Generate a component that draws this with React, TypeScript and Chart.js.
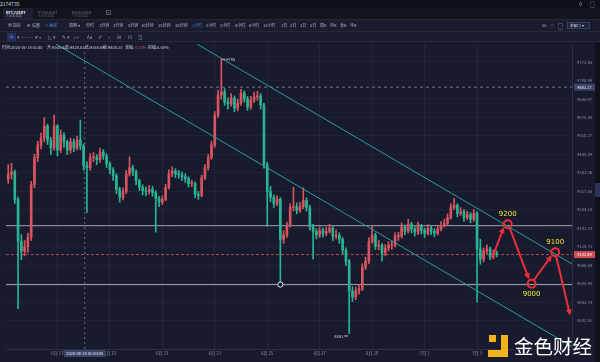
import React, { useEffect, useRef } from "react";
import { Chart, registerables } from "chart.js";

Chart.register(...registerables);

// ---- time axis: day number of June 2020 (July 1 = 31). 3-hour candles from 2020-06-15 03:00
const candleStartDay = 15.125;
const candleStepDays = 0.125;
const firstOpen = 9360;

const closes = [
  9375, 9385, 9290, 9147, 9114, 9128, 9161, 9341, 9434, 9478,
  9503, 9545, 9496, 9468, 9545, 9461, 9513, 9489, 9461, 9489,
  9468, 9496, 9475, 9406, 9399, 9434, 9437, 9427, 9454, 9440,
  9413, 9392, 9371, 9324, 9297, 9317, 9378, 9399, 9385, 9354,
  9331, 9320, 9317, 9324, 9313, 9293, 9280, 9290, 9331, 9378,
  9388, 9378, 9375, 9368, 9361, 9344, 9344, 9307, 9303, 9365,
  9399, 9434, 9478, 9584, 9655, 9666, 9630, 9623, 9644, 9608,
  9626, 9662, 9641, 9612, 9637, 9648, 9651, 9619, 9410, 9317,
  9297, 9276, 9290, 9154, 9168, 9201, 9262, 9265, 9252, 9265,
  9286, 9262, 9198, 9181, 9168, 9184, 9174, 9181, 9191, 9164,
  9168, 9154, 9117, 9080, 8981, 8961, 8981, 8988, 9060, 9080,
  9147, 9168, 9131, 9134, 9107, 9124, 9134, 9134, 9164, 9164,
  9195, 9181, 9205, 9188, 9178, 9198, 9184, 9174, 9191, 9181,
  9174, 9188, 9201, 9208, 9228, 9262, 9269, 9242, 9248, 9228,
  9238, 9222, 9242, 9121, 9087, 9114, 9121, 9094, 9107, 9102.49,
];

const highs = [
  9410, 9415, 9392, 9298, 9170, 9150, 9175, 9352, 9446, 9492,
  9520, 9575, 9552, 9505, 9584, 9550, 9531, 9522, 9495, 9502,
  9500, 9510, 9566, 9482, 9420, 9448, 9452, 9445, 9468, 9462,
  9448, 9420, 9400, 9378, 9332, 9330, 9390, 9437, 9408, 9392,
  9360, 9340, 9332, 9338, 9335, 9320, 9300, 9302, 9342, 9392,
  9402, 9396, 9390, 9385, 9378, 9368, 9356, 9350, 9318, 9374,
  9410, 9446, 9492, 9596, 9672, 9785, 9678, 9645, 9660, 9652,
  9640, 9675, 9670, 9650, 9650, 9665, 9668, 9660, 9625, 9418,
  9335, 9305, 9302, 9296, 9182, 9212, 9275, 9331, 9278, 9280,
  9330, 9295, 9270, 9205, 9190, 9196, 9192, 9194, 9205, 9198,
  9185, 9176, 9160, 9125, 9086, 8995, 8994, 9002, 9072, 9094,
  9160, 9198, 9175, 9150, 9140, 9136, 9146, 9148, 9176, 9178,
  9210, 9202, 9222, 9212, 9196, 9212, 9205, 9192, 9204, 9198,
  9190, 9200, 9214, 9222, 9240, 9275, 9293, 9275, 9262, 9255,
  9250, 9245, 9255, 9248, 9154, 9125, 9135, 9128, 9118, 9115,
];

const lows = [
  9345, 9360, 9276, 8922, 9085, 9098, 9110, 9150, 9330, 9420,
  9465, 9490, 9480, 9445, 9460, 9440, 9452, 9470, 9445, 9450,
  9455, 9460, 9462, 9390, 9245, 9390, 9420, 9410, 9418, 9428,
  9400, 9378, 9355, 9310, 9280, 9288, 9310, 9370, 9372, 9340,
  9320, 9305, 9302, 9308, 9300, 9178, 9265, 9272, 9285, 9325,
  9368, 9365, 9362, 9355, 9348, 9332, 9334, 9296, 9290, 9298,
  9358, 9390, 9428, 9470, 9575, 9640, 9618, 9605, 9615, 9595,
  9598, 9618, 9630, 9600, 9605, 9628, 9636, 9605, 9398, 9198,
  9282, 9262, 9268, 9002, 9140, 9160, 9195, 9250, 9240, 9245,
  9258, 9250, 9185, 9087, 9155, 9160, 9162, 9166, 9175, 9150,
  9155, 9140, 9105, 9066, 8841, 8946, 8952, 8970, 8982, 9052,
  9072, 9140, 9120, 9118, 9080, 9098, 9115, 9120, 9128, 9150,
  9158, 9170, 9175, 9176, 9165, 9170, 9172, 9160, 9168, 9170,
  9162, 9168, 9182, 9195, 9200, 9222, 9255, 9230, 9235, 9215,
  9220, 9210, 9215, 8945, 9070, 9078, 9105, 9085, 9088, 9095,
];

// ---- axes
const yTickValues = [
  8882.91, 8943.74, 9004.98, 9066.54, 9128.73, 9191.24, 9254.18, 9317.55,
  9381.36, 9445.59, 9510.27, 9575.4, 9640.97, 9706.98, 9773.45,
];
const yMin = 8790.5;
const yMax = 9838.6;
const xMin = 15.04;
const xMax = 36.62;
const xTickDays = [17, 19, 21, 23, 25, 27, 29, 31, 33];
const xTickLabels = ["6月 17", "6月 19", "6月 21", "6月 23", "6月 25", "6月 27", "6月 29", "7月 1", "7月 3"];

// ---- drawings
const levelPrices = [9200, 9002];
const lastPrice = 9102.49;
const crosshairDay = 18.04;
const crosshairPrice = 9683.17;
const crosshairTimeLabel = "2020-06-18 01:00:00";
const anchorDay = 25.5;
const anchorPrice = 9002;

const channelUpperDays = [22.32, 36.62];
const channelUpperPrices = [9838.6, 9071];
const channelLowerDays = [16.94, 36.62];
const channelLowerPrices = [9838.6, 8798.6];

const targetDays = [34.17, 35.08, 35.98];
const targetPrices = [9205, 9005, 9110];
const targetLabels = ["9200", "9000", "9100"];

const arrowFromDays = [33.59, 34.25, 35.19, 36.02];
const arrowFromPrices = [9094, 9191, 9020, 9094];
const arrowToDays = [34.02, 34.98, 35.85, 36.55];
const arrowToPrices = [9195, 9020, 9100, 8900];

// ---- styles
const BG = "#171b2d";
const UP = "#d9545f";
const DOWN = "#2ab493";
const TEAL = "#2a9e9c";
const ANN_RED = "#ec2f3a";
const AXIS_TXT = "#8d92a7";
const FONT = '"Noto Sans CJK SC", "Noto Sans", sans-serif';

const targetLabelSide = [-1, 1, -1];

const overlayPlugin = {
  id: "overlay",
  afterDatasetsDraw(chart: any) {
    const { ctx, scales } = chart;
    const x = scales.x;
    const y = scales.y;
    ctx.save();
    // anchor circle on support line
    ctx.beginPath();
    ctx.arc(x.getPixelForValue(anchorDay), y.getPixelForValue(anchorPrice), 2.6, 0, Math.PI * 2);
    ctx.fillStyle = BG;
    ctx.fill();
    ctx.strokeStyle = "#e8e8ee";
    ctx.lineWidth = 1;
    ctx.stroke();

    // high / low labels
    const hiIdx = highs.indexOf(Math.max(...highs));
    const loIdx = lows.indexOf(Math.min(...lows));
    const hx = x.getPixelForValue(candleStartDay + hiIdx * candleStepDays);
    const hy = y.getPixelForValue(highs[hiIdx]);
    const lx = x.getPixelForValue(candleStartDay + loIdx * candleStepDays);
    const ly = y.getPixelForValue(lows[loIdx]);
    ctx.strokeStyle = "#c9ccd8";
    ctx.beginPath();
    ctx.moveTo(hx + 1, hy + 0.5);
    ctx.lineTo(hx + 4, hy + 0.5);
    ctx.moveTo(lx - 5, ly + 2.5);
    ctx.lineTo(lx - 1, ly + 2.5);
    ctx.stroke();
    ctx.fillStyle = "#d5d8e2";
    ctx.font = `4px ${FONT}`;
    ctx.textBaseline = "middle";
    ctx.textAlign = "left";
    ctx.fillText(String(highs[hiIdx]), hx + 5, hy + 0.5);
    ctx.textAlign = "right";
    ctx.fillText(String(lows[loIdx]), lx - 6, ly + 2.5);

    // arrows
    ctx.strokeStyle = ANN_RED;
    ctx.fillStyle = ANN_RED;
    ctx.lineWidth = 2;
    ctx.lineCap = "round";
    for (let k = 0; k < arrowFromDays.length; k++) {
      const x1 = x.getPixelForValue(arrowFromDays[k]);
      const y1 = y.getPixelForValue(arrowFromPrices[k]);
      const x2 = x.getPixelForValue(arrowToDays[k]);
      const y2 = y.getPixelForValue(arrowToPrices[k]);
      const a = Math.atan2(y2 - y1, x2 - x1);
      ctx.beginPath();
      ctx.moveTo(x1, y1);
      ctx.lineTo(x2 - Math.cos(a) * 3, y2 - Math.sin(a) * 3);
      ctx.stroke();
      ctx.beginPath();
      ctx.moveTo(x2, y2);
      ctx.lineTo(x2 - Math.cos(a) * 6 + Math.sin(a) * 3, y2 - Math.sin(a) * 6 - Math.cos(a) * 3);
      ctx.lineTo(x2 - Math.cos(a) * 6 - Math.sin(a) * 3, y2 - Math.sin(a) * 6 + Math.cos(a) * 3);
      ctx.closePath();
      ctx.fill();
    }
    // target labels
    ctx.font = `7px "DejaVu Sans", sans-serif`;
    ctx.textAlign = "center";
    ctx.textBaseline = "middle";
    for (let k = 0; k < targetDays.length; k++) {
      const tx = x.getPixelForValue(targetDays[k]);
      const ty = y.getPixelForValue(targetPrices[k]) + targetLabelSide[k] * 10;
      ctx.lineWidth = 2;
      ctx.strokeStyle = "rgba(20,20,20,0.6)";
      ctx.strokeText(targetLabels[k], tx, ty);
      ctx.fillStyle = "#f6e84a";
      ctx.fillText(targetLabels[k], tx, ty);
    }
    ctx.restore();
  },
  afterDraw(chart: any) {
    const { ctx, chartArea, scales } = chart;
    const x = scales.x;
    const y = scales.y;
    ctx.save();
    ctx.font = `4px ${FONT}`;
    ctx.textBaseline = "middle";
    ctx.textAlign = "center";
    const box = (cy: number, bg: string, fg: string, label: string) => {
      ctx.fillStyle = bg;
      ctx.fillRect(chartArea.right + 2, cy - 3.5, 21, 7);
      ctx.fillStyle = fg;
      ctx.fillText(label, chartArea.right + 12.5, cy);
    };
    box(y.getPixelForValue(crosshairPrice), "#3c4366", "#e6e8f1", crosshairPrice.toFixed(2));
    box(y.getPixelForValue(lastPrice), "#cf4c57", "#ffffff", lastPrice.toFixed(2));
    const cx = x.getPixelForValue(crosshairDay);
    ctx.fillStyle = "#3c4366";
    ctx.fillRect(cx - 21, chartArea.bottom + 1, 42, 7);
    ctx.fillStyle = "#e6e8f1";
    ctx.fillText(crosshairTimeLabel, cx, chartArea.bottom + 4.5);
    ctx.restore();
  },
};

export default function App() {
  const ref = useRef<HTMLCanvasElement>(null);

  useEffect(() => {
    const days = closes.map((_, i) => candleStartDay + i * candleStepDays);
    const opens = closes.map((_, i) => (i === 0 ? firstOpen : closes[i - 1]));
    const colors = closes.map((c, i) => (c >= opens[i] ? UP : DOWN));

    const hLine = (price: number, color: string, dash: number[], order: number) => ({
      type: "line" as const,
      data: [
        { x: xMin, y: price },
        { x: xMax, y: price },
      ],
      borderColor: color,
      borderWidth: 1,
      borderDash: dash,
      pointRadius: 0,
      order,
    });

    const chart = new Chart(ref.current as HTMLCanvasElement, {
      type: "bar",
      data: {
        datasets: [
          ...levelPrices.map((p) => hLine(p, "#a3a6b3", [], 20)),
          hLine(lastPrice, "rgba(214,84,96,0.8)", [3, 2], 20),
          hLine(crosshairPrice, "rgba(150,155,175,0.7)", [3, 3], 20),
          {
            type: "line",
            data: [
              { x: crosshairDay, y: yMin },
              { x: crosshairDay, y: yMax },
            ],
            borderColor: "rgba(150,155,175,0.6)",
            borderWidth: 1,
            borderDash: [2, 3],
            pointRadius: 0,
            order: 20,
          },
          {
            type: "line",
            data: channelUpperDays.map((d, i) => ({ x: d, y: channelUpperPrices[i] })),
            borderColor: TEAL,
            borderWidth: 1,
            pointRadius: 0,
            order: 3,
          },
          {
            type: "line",
            data: channelLowerDays.map((d, i) => ({ x: d, y: channelLowerPrices[i] })),
            borderColor: TEAL,
            borderWidth: 1,
            pointRadius: 0,
            order: 3,
          },
          {
            type: "bar",
            data: days.map((d, i) => ({ x: d, y: [lows[i], highs[i]] })),
            backgroundColor: colors,
            barThickness: 1,
            grouped: false,
            order: 6,
          },
          {
            type: "bar",
            data: days.map((d, i) => ({
              x: d,
              y: [Math.min(opens[i], closes[i]), Math.max(opens[i], closes[i])],
            })),
            backgroundColor: colors,
            barThickness: 2,
            minBarLength: 1,
            grouped: false,
            order: 5,
          },
          {
            type: "line",
            data: targetDays.map((d, i) => ({ x: d, y: targetPrices[i] })),
            showLine: false,
            pointRadius: 4,
            pointBorderWidth: 2,
            pointBorderColor: ANN_RED,
            pointBackgroundColor: "rgba(0,0,0,0)",
            order: 1,
          },
        ] as any,
      },
      options: {
        responsive: false,
        animation: false,
        events: [],
        layout: { padding: { top: 44, left: 0, right: 0, bottom: 0 } },
        plugins: { legend: { display: false }, tooltip: { enabled: false } },
        scales: {
          x: {
            type: "linear",
            min: xMin,
            max: xMax,
            offset: false,
            afterBuildTicks: (s: any) => {
              s.ticks = xTickDays.map((v) => ({ value: v }));
            },
            afterFit: (s: any) => {
              s.height = 13;
            },
            ticks: {
              autoSkip: false,
              maxRotation: 0,
              padding: 2,
              color: AXIS_TXT,
              font: { size: 4.2, family: FONT },
              callback: (v: any) => xTickLabels[xTickDays.indexOf(Number(v))],
            },
            grid: { color: "rgba(255,255,255,0.05)", drawTicks: false, offset: false },
            border: { color: "#2a2f43" },
          },
          y: {
            type: "logarithmic",
            position: "right",
            min: yMin,
            max: yMax,
            afterBuildTicks: (s: any) => {
              s.ticks = yTickValues.map((v) => ({ value: v }));
            },
            afterFit: (s: any) => {
              s.width = 28;
            },
            ticks: {
              autoSkip: false,
              padding: 5,
              color: AXIS_TXT,
              font: { size: 4.2, family: FONT },
              callback: (v: any) => Number(v).toFixed(2),
            },
            grid: { color: "rgba(255,255,255,0.035)", drawTicks: false },
            border: { color: "#2a2f43" },
          },
        },
      } as any,
      plugins: [overlayPlugin],
    });
    return () => chart.destroy();
  }, []);

  const t = (key: string, x: number, cy: number, text: string, size: number, color: string, extra: any = {}) => (
    <span
      key={key}
      style={{
        position: "absolute",
        left: x,
        top: cy - size / 2,
        fontSize: size,
        lineHeight: `${size}px`,
        color,
        whiteSpace: "nowrap",
        ...extra,
      }}
    >
      {text}
    </span>
  );

  const periods: [number, string, boolean][] = [
    [69, "周期 ▾", false], [86, "分时", false], [99, "1分钟", false], [113, "3分钟", false],
    [128, "5分钟", false], [141, "10分钟", false], [158, "15分钟", false], [175, "30分钟", false],
    [192, "1小时", true], [206, "2小时", false], [220, "3小时", false], [235, "4小时", false],
    [249, "6小时", false], [263, "12小时", false], [281, "1日", false], [290, "2日", false],
    [300, "3日", false], [310, "5日", false], [320, "周K", false], [330, "月K", false],
    [340, "季K", false], [350, "年K", false],
  ];
  const tools: [number, string][] = [
    [17, "▾"], [21, "—•— ▾"], [35, "⟋ ▾"], [48, "◺ ▾"], [62, "✎ ▾"], [73, "⩘ ▾"],
    [87, "Aa"], [98, "✐"], [108, "⌖"], [117, "⊟"], [128, "⊡"], [138, "▥"],
  ];

  return (
    <div
      style={{
        position: "fixed",
        left: 0,
        top: 0,
        width: 600,
        height: 362,
        background: BG,
        overflow: "hidden",
        fontFamily: FONT,
      }}
    >
      <canvas ref={ref} width={600} height={362} style={{ position: "absolute", left: 0, top: 0, width: 600, height: 362 }} />
      {/* header bands */}
      <div style={{ position: "absolute", left: 0, top: 0, width: 600, height: 8, background: "#0e1017" }} />
      <div style={{ position: "absolute", left: 0, top: 8, width: 600, height: 11, background: "#12151e" }} />
      <div style={{ position: "absolute", left: 3, top: 8, width: 30, height: 11, background: "#1b1f30" }} />
      <div style={{ position: "absolute", left: 0, top: 19, width: 600, height: 23, background: "#191d2e", borderTop: "1px solid #23283a", borderBottom: "1px solid #23283a", boxSizing: "border-box" }} />
      <div style={{ position: "absolute", left: 0, top: 31, width: 600, height: 1, background: "#23283a" }} />
      <div style={{ position: "absolute", left: 7, top: 33, width: 9, height: 8, background: "#27305a" }} />
      <div style={{ position: "absolute", left: 106, top: 10, width: 5, height: 5, border: "1px solid #4a5068", boxSizing: "border-box" }} />
      <div style={{ position: "absolute", left: 567, top: 22, width: 23, height: 7, border: "1px solid #3a4060", background: "#1f2438", boxSizing: "border-box" }} />
      <div style={{ position: "absolute", left: 595, top: 42, width: 5, height: 320, background: "#10121b" }} />
      <div style={{ position: "absolute", left: 595, top: 183, width: 5, height: 14, background: "#2b3358" }} />
      {t("id", 0, 3, "2174735", 5, "#d8dae3")}
      {t("ic1", 579, 3.5, "⚲", 5, "#a8acbb")}
      {t("ic2", 590, 3.5, "▢", 5, "#a8acbb")}
      {t("tab1", 6, 11.5, "BTC/USDT", 4, "#e8eaf0", { fontWeight: 700 })}
      {t("tab1s", 6, 15.8, "火币全球站", 3.2, "#8a8fa2")}
      {t("tab2", 38, 11.5, "ETH/USDT", 4, "#6c7186")}
      {t("tab2s", 38, 15.8, "火币全球站", 3.2, "#4e5368")}
      {t("tab3", 72, 11.5, "BCH/USDT", 4, "#6c7186")}
      {t("tab3s", 72, 15.8, "火币全球站", 3.2, "#4e5368")}
      {t("plus", 107, 12.3, "+", 4, "#8a8fa2")}
      {t("ind", 8, 25, "▤ 指标", 4, "#b4b8c8")}
      {t("set", 27, 25, "⚙ 设置", 4, "#b4b8c8")}
      {t("draw", 45, 25, "✎ 画线", 4, "#4a86f0")}
      {periods.map(([px, label, sel]) => t("p" + label, px, 25, label, 4, sel ? "#4a86f0" : "#b4b8c8"))}
      {t("3s", 542, 25, "3s", 4, "#b4b8c8")}
      {t("icA", 550, 25, "⁘", 5, "#b4b8c8")}
      {t("icB", 558, 25, "▢", 5, "#b4b8c8")}
      {t("win", 570, 25.3, "单窗口 ▾", 3.6, "#c8ccda")}
      {t("cross", 9, 37, "✛", 6, "#4a86f0")}
      {tools.map(([px, g], i) => t("tool" + i, px, 37, g, 4.5, "#8d92a6"))}
      {/* info row */}
      {t("info1", 2, 46.7, "时间:2020-06-18 01:00", 4, "#c8ccd9")}
      {t("info2", 47, 46.7, "开:9368.42", 4, "#c8ccd9")}
      {t("info3", 65, 46.7, "高:9428.03", 4, "#c8ccd9")}
      {t("info4", 85, 46.7, "低:9364.69", 4, "#c8ccd9")}
      {t("info5", 103, 46.7, "收:9404.35", 4, "#c8ccd9")}
      {t("info6", 125, 46.7, "涨幅:", 4, "#c8ccd9")}
      {t("info6b", 135, 46.7, "0.38%", 4, "#e0505c")}
      {t("info7", 148, 46.7, "振幅:0.68%", 4, "#c8ccd9")}
      {/* watermark */}
      <div style={{ position: "absolute", left: 489, top: 335, width: 7, height: 7, background: "#f3b21c" }} />
      <div style={{ position: "absolute", left: 501, top: 335, width: 7, height: 22, background: "#f3b21c" }} />
      <div style={{ position: "absolute", left: 488, top: 350, width: 20, height: 7, background: "#f3b21c" }} />
      {t("wm", 514, 346, "金色财经", 19.5, "#ffffff", { fontWeight: 400, letterSpacing: 0 })}
    </div>
  );
}
